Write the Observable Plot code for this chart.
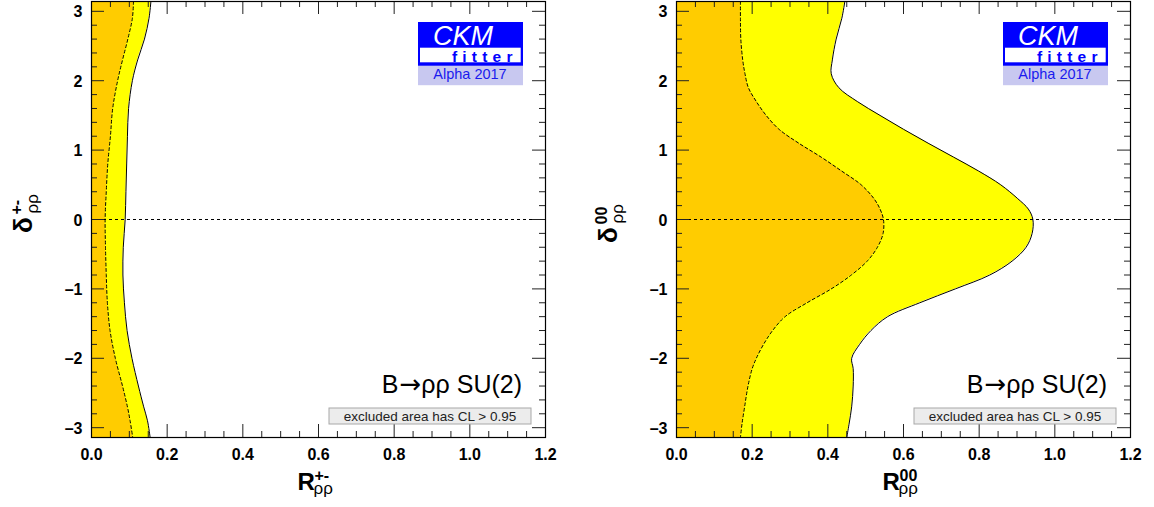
<!DOCTYPE html>
<html><head><meta charset="utf-8">
<script src="https://cdn.jsdelivr.net/npm/d3@7"></script>
<script src="https://cdn.jsdelivr.net/npm/@observablehq/plot@0.6"></script>
<style>
html,body{margin:0;padding:0;background:#fff;}
#wrap{display:flex;width:1154px;height:507px;overflow:hidden;}
#wrap svg{display:block;}
</style></head><body><div id="wrap"></div>
<script>
// ---- tick labels ----
const xTicks = [0, 0.2, 0.4, 0.6, 0.8, 1.0, 1.2];
const yTicks = [-3, -2, -1, 0, 1, 2, 3];
const xMinorTicks = d3.ticks(0, 1.2, 24).filter(v => Math.abs(v * 5 - Math.round(v * 5)) > 1e-6);
const yMinorTicks = d3.range(-15, 16).map(v => v / 5).filter(v => Math.abs(v - Math.round(v)) > 1e-6);

// ---- texts ----
const processParts = ["B", "\u2192", "\u03c1\u03c1 SU(2)"];
const clNote = "excluded area has CL > 0.95";

// ---- left panel: R+- vs delta+- ----
const yPM      = [3.1416, 2.9, 2.6, 2.3, 2.0, 1.6, 1.2, 0.8, 0.4, 0, -0.4, -0.8, -1.2, -1.6, -2.0, -2.4, -2.7, -2.9, -3.1416];
const rPMouter = [0.157, 0.152, 0.140, 0.122, 0.108, 0.098, 0.095, 0.093, 0.091, 0.089, 0.084, 0.083, 0.087, 0.094, 0.107, 0.124, 0.138, 0.148, 0.155];
const rPMinner = [0.111, 0.108, 0.096, 0.082, 0.069, 0.056, 0.050, 0.043, 0.039, 0.036, 0.037, 0.039, 0.042, 0.049, 0.063, 0.082, 0.095, 0.102, 0.109];

// ---- right panel: R00 vs delta00 ----
const y00      = [3.1416, 2.9, 2.6, 2.3, 2.1, 1.9, 1.7, 1.5, 1.3, 1.1, 0.9, 0.7, 0.5, 0.3, 0.15, 0, -0.2, -0.4, -0.6, -0.8, -1.0, -1.2, -1.4, -1.6, -1.8, -2.0, -2.15, -2.4, -2.7, -2.95, -3.1416];
const r00outer = [0.445, 0.437, 0.422, 0.412, 0.409, 0.429, 0.478, 0.538, 0.600, 0.665, 0.732, 0.798, 0.857, 0.902, 0.930, 0.942, 0.940, 0.924, 0.887, 0.828, 0.737, 0.643, 0.558, 0.514, 0.484, 0.463, 0.467, 0.467, 0.463, 0.456, 0.450];
const r00inner = [0.169, 0.169, 0.170, 0.175, 0.181, 0.190, 0.211, 0.237, 0.271, 0.323, 0.382, 0.436, 0.488, 0.522, 0.538, 0.547, 0.546, 0.531, 0.504, 0.462, 0.409, 0.345, 0.287, 0.254, 0.230, 0.211, 0.200, 0.189, 0.180, 0.173, 0.169];

const FONT = "'Liberation Sans', Arial, Helvetica, sans-serif";
const yFmt = d => d < 0 ? "\u2013" + (-d) : String(d);

function panel({ys, outer, inner, sup, mLeft, mRight, yLabStart}) {
  const W = 577, H = 507, mTop = 1, mBottom = 70;
  const ph = H - mTop - mBottom, pw = W - mLeft - mRight;
  const rows = ys.map((y, i) => ({y, outer: outer[i], inner: inner[i]}));
  const svg = Plot.plot({
    width: W, height: H,
    marginLeft: mLeft, marginRight: mRight, marginTop: mTop, marginBottom: mBottom,
    style: {fontFamily: FONT, background: "white", overflow: "visible", color: "black"},
    x: {domain: [0, 1.2]},
    y: {domain: [-Math.PI, Math.PI]},
    marks: [
      Plot.areaX(rows, {y: "y", x1: 0, x2: "outer", fill: "#ffff00", curve: "catmull-rom", clip: true}),
      Plot.areaX(rows, {y: "y", x1: 0, x2: "inner", fill: "#ffcc00", curve: "catmull-rom", clip: true}),
      Plot.lineX(rows, {y: "y", x: "outer", stroke: "black", strokeWidth: 1, curve: "catmull-rom", clip: true}),
      Plot.lineX(rows, {y: "y", x: "inner", stroke: "black", strokeWidth: 1, strokeDasharray: "3,2.5", curve: "catmull-rom", clip: true}),
      Plot.ruleY([0], {stroke: "black", strokeWidth: 1, strokeDasharray: "3,3"}),
      // inward ticks: bottom / top
      Plot.tickX(xTicks, {insetTop: ph - 13, stroke: "#222"}),
      Plot.tickX(xMinorTicks, {insetTop: ph - 6, stroke: "#222"}),
      Plot.tickX(xTicks, {insetBottom: ph - 13, stroke: "#222"}),
      Plot.tickX(xMinorTicks, {insetBottom: ph - 6, stroke: "#222"}),
      // inward ticks: left / right
      Plot.tickY(yTicks, {insetRight: pw - 13, stroke: "#222"}),
      Plot.tickY(yMinorTicks, {insetRight: pw - 6, stroke: "#222"}),
      Plot.tickY(yTicks, {insetLeft: pw - 13, stroke: "#222"}),
      Plot.tickY(yMinorTicks, {insetLeft: pw - 6, stroke: "#222"}),
      Plot.axisX(xTicks, {tickSize: 0, tickPadding: 11, tickFormat: d3.format(".1f"), fontSize: 16, fontWeight: "bold", label: null}),
      Plot.axisY(yTicks, {tickSize: 0, tickPadding: 9, dy: 1, tickFormat: yFmt, fontSize: 16, fontWeight: "bold", label: null}),
      Plot.frame({stroke: "black", strokeWidth: 1.2})
    ]
  });

  const s = d3.select(svg);
  const R = W - mRight, B = H - mBottom, L = mLeft;

  // process label
  const pt = s.append("text").attr("x", R - 23).attr("y", B - 44).attr("text-anchor", "end")
    .attr("font-size", 25).attr("fill", "black");
  pt.append("tspan").text(processParts[0]);
  pt.append("tspan").attr("font-family", "'DejaVu Sans', sans-serif").attr("font-size", 26).attr("dx", 1).text(processParts[1]);
  pt.append("tspan").text(processParts[2]);

  // CL note box
  s.append("rect").attr("x", R - 216).attr("y", B - 29).attr("width", 202).attr("height", 16)
    .attr("fill", "#ececec").attr("stroke", "#a8a8a8").attr("stroke-width", 1);
  s.append("text").attr("x", R - 115).attr("y", B - 16.5).attr("text-anchor", "middle")
    .attr("font-size", 13.5).attr("fill", "#222").text(clNote);

  // CKMfitter logo
  const g = s.append("g").attr("text-anchor", "start");
  g.append("rect").attr("x", R - 127).attr("y", 22).attr("width", 105).attr("height", 44).attr("fill", "#0000ff");
  g.append("rect").attr("x", R - 125).attr("y", 47.7).attr("width", 100.7).attr("height", 14.6).attr("fill", "#ffffff");
  g.append("rect").attr("x", R - 127).attr("y", 65.7).attr("width", 105).attr("height", 19.5).attr("fill", "#c8c8f0");
  g.append("text").attr("x", R - 112).attr("y", 44.5).attr("font-size", 27).attr("font-style", "italic")
    .attr("fill", "#ffffff").text("CKM");
  g.append("text").attr("x", R - 93).attr("y", 61.5).attr("font-size", 15.5).attr("font-weight", "bold")
    .attr("letter-spacing", "5.2px").attr("fill", "#0000ff").text("fitter");
  g.append("text").attr("x", R - 75).attr("y", 79).attr("text-anchor", "middle").attr("font-size", 14.5)
    .attr("fill", "#1a1aee").text("Alpha 2017");

  // x axis title: R^{sup}_{rho rho}
  const xl = L + 206.5;
  const gx = s.append("g").attr("text-anchor", "start");
  gx.append("text").attr("x", xl).attr("y", 490).attr("font-size", 24).attr("font-weight", "bold").text("R");
  gx.append("text").attr("x", xl + 17).attr("y", 481).attr("font-size", 16).attr("font-weight", "bold").text(sup);
  gx.append("text").attr("x", xl + 16).attr("y", 494).attr("font-size", 17).text("\u03c1\u03c1");

  // y axis title: delta^{sup}_{rho rho}, rotated
  const bx = L - 59;
  const gy = s.append("g").attr("text-anchor", "start").attr("transform", `translate(${bx},${yLabStart}) rotate(-90)`);
  gy.append("text").attr("x", 0).attr("y", 0).attr("font-size", 26).attr("font-weight", "bold").text("\u03b4");
  gy.append("text").attr("x", 18.5).attr("y", -10.5).attr("font-size", 16).attr("font-weight", "bold").text(sup);
  gy.append("text").attr("x", 19.5).attr("y", 6).attr("font-size", 17).text("\u03c1\u03c1");
  return svg;
}

const wrap = document.getElementById("wrap");
wrap.appendChild(panel({ys: yPM, outer: rPMouter, inner: rPMinner, sup: "+-", mLeft: 91, mRight: 32, yLabStart: 233}));
wrap.appendChild(panel({ys: y00, outer: r00outer, inner: r00inner, sup: "00", mLeft: 99, mRight: 24, yLabStart: 243}));
</script>
</body></html>
